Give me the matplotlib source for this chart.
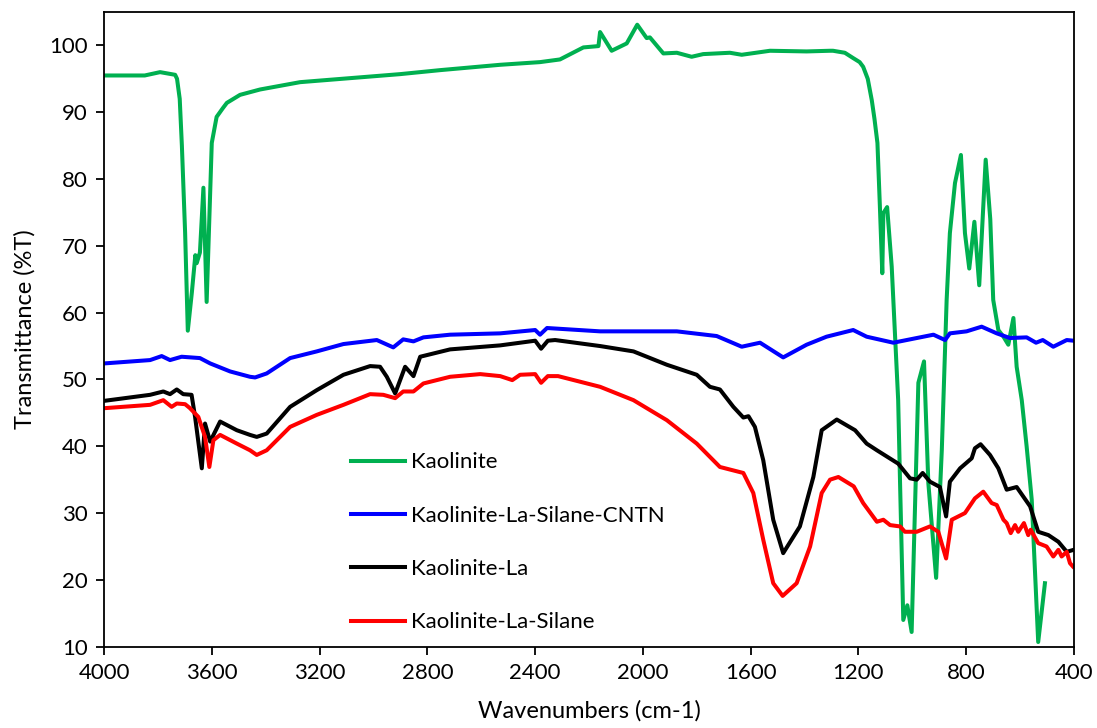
import matplotlib
matplotlib.use("Agg")
import matplotlib.pyplot as plt

plt.rcParams["font.family"] = ["Lato", "DejaVu Sans"]

# Kaolinite
wn_kao = [4000, 3850, 3793, 3737, 3730, 3720, 3712, 3700, 3690, 3675, 3662, 3657, 3645, 3632,
          3620, 3601, 3583, 3560, 3545, 3496, 3422, 3273, 2902, 2753, 2530, 2382, 2308, 2221,
          2165, 2159, 2116, 2060, 2021, 1986, 1974, 1924, 1874, 1819, 1776, 1677, 1633, 1528,
          1392, 1305, 1294, 1250, 1219, 1195, 1182, 1165, 1150, 1140, 1129, 1120, 1111, 1107,
          1093, 1076, 1052, 1045, 1033, 1018, 1002, 977, 956, 940, 911, 890, 872, 860, 841, 819,
          804, 788, 769, 751, 727, 710, 699, 680, 661, 643, 624, 612, 593, 575, 556, 532, 507]
t_kao = [95.5, 95.5, 96.0, 95.6, 95.0, 92.0, 85.0, 72.0, 57.3, 63.0, 68.6, 67.4, 69.0, 78.7,
         61.6, 85.4, 89.3, 90.6, 91.4, 92.6, 93.4, 94.5, 95.7, 96.3, 97.1, 97.5, 97.9, 99.7,
         99.9, 102.0, 99.2, 100.3, 103.1, 101.1, 101.2, 98.8, 98.9, 98.3, 98.7, 98.9, 98.6, 99.2,
         99.1, 99.2, 99.2, 98.9, 98.1, 97.5, 96.8, 95.0, 91.8, 89.0, 85.4, 76.0, 65.9, 74.9, 75.8,
         66.9, 46.9, 34.5, 14.0, 16.2, 12.2, 49.5, 52.7, 34.5, 20.3, 39.4, 61.9, 71.9, 79.4, 83.6,
         71.9, 66.6, 73.6, 64.1, 82.9, 74.0, 61.9, 57.4, 56.4, 55.2, 59.2, 51.9, 46.9, 40.0, 32.0,
         10.7, 19.5]

# Kaolinite-La-Silane-CNTN
wn_cntn = [4000, 3830, 3787, 3756, 3713, 3645, 3607, 3533, 3459, 3440, 3397, 3310, 3211, 3112,
           2988, 2927, 2890, 2852, 2815, 2716, 2530, 2400, 2382, 2356, 2159, 2035, 1874, 1726,
           1633, 1565, 1479, 1392, 1318, 1219, 1169, 1070, 921, 878, 860, 798, 742, 686, 637,
           575, 540, 515, 476, 426, 400]
t_cntn = [52.4, 52.9, 53.5, 52.9, 53.4, 53.2, 52.4, 51.2, 50.4, 50.3, 50.9, 53.2, 54.2, 55.3,
          55.9, 54.8, 56.0, 55.7, 56.3, 56.7, 56.9, 57.4, 56.7, 57.7, 57.2, 57.2, 57.2, 56.5,
          54.9, 55.5, 53.3, 55.2, 56.4, 57.4, 56.4, 55.5, 56.7, 55.9, 56.9, 57.2, 57.9, 56.9, 56.2,
          56.3, 55.5, 55.9, 54.9, 55.9, 55.8]

# Kaolinite-La
wn_la = [4000, 3830, 3781, 3756, 3731, 3707, 3676, 3663, 3638, 3626, 3607, 3570, 3508, 3459,
         3434, 3397, 3310, 3211, 3112, 3013, 2976, 2951, 2920, 2883, 2852, 2827, 2716, 2530,
         2400, 2378, 2353, 2326, 2159, 2035, 1911, 1800, 1751, 1714, 1664, 1627, 1608, 1584,
         1553, 1516, 1479, 1417, 1367, 1336, 1280, 1212, 1169, 1131, 1052, 1008, 983, 961, 934,
         897, 874, 860, 822, 779, 767, 746, 711, 680, 649, 612, 562, 532, 494, 457, 426, 400]
t_la = [46.8, 47.7, 48.2, 47.8, 48.5, 47.8, 47.7, 44.4, 36.7, 43.4, 40.7, 43.7, 42.4, 41.7,
        41.4, 41.9, 45.9, 48.4, 50.7, 52.0, 51.9, 50.4, 47.9, 51.9, 50.5, 53.4, 54.5, 55.1,
        55.8, 54.6, 55.8, 55.9, 55.0, 54.2, 52.2, 50.7, 48.9, 48.5, 45.9, 44.3, 44.5, 42.9,
        37.9, 29.0, 24.0, 28.0, 35.4, 42.4, 44.0, 42.4, 40.4, 39.4, 37.4, 35.2, 35.0, 36.0, 34.7,
        33.9, 29.5, 34.7, 36.7, 38.2, 39.7, 40.3, 38.7, 36.7, 33.5, 33.9, 31.0, 27.2, 26.7, 25.7,
        24.2, 24.5]

# Kaolinite-La-Silane
wn_sil = [4000, 3830, 3781, 3750, 3731, 3700, 3682, 3651, 3626, 3610, 3595, 3570, 3508, 3459,
          3434, 3397, 3310, 3211, 3112, 3013, 2964, 2920, 2890, 2852, 2815, 2716, 2604, 2530,
          2485, 2456, 2400, 2378, 2353, 2315, 2159, 2035, 1911, 1800, 1714, 1627, 1590, 1553,
          1516, 1481, 1429, 1379, 1336, 1305, 1274, 1217, 1182, 1131, 1107, 1082, 1045, 1027,
          983, 934, 903, 874, 853, 804, 767, 736, 705, 686, 661, 649, 634, 618, 606, 585, 569,
          560, 532, 501, 476, 457, 445, 426, 414, 403]
t_sil = [45.7, 46.2, 46.9, 45.9, 46.4, 46.3, 45.7, 44.4, 41.4, 36.9, 40.9, 41.7, 40.4, 39.4,
         38.7, 39.4, 42.9, 44.7, 46.2, 47.8, 47.7, 47.2, 48.2, 48.2, 49.4, 50.4, 50.8, 50.5,
         49.9, 50.7, 50.8, 49.5, 50.5, 50.5, 48.9, 46.9, 43.9, 40.4, 36.9, 36.0, 33.0, 26.0,
         19.5, 17.6, 19.5, 25.0, 33.0, 35.0, 35.4, 34.0, 31.5, 28.7, 29.0, 28.2, 28.0, 27.2,
         27.2, 28.0, 27.2, 23.2, 29.0, 30.0, 32.2, 33.2, 31.5, 31.2, 29.0, 28.5, 27.0, 28.2, 27.2,
         28.5, 26.7, 27.5, 25.5, 25.0, 23.5, 24.5, 23.5, 24.2, 22.5, 22.0]

x_ticks = [4000, 3600, 3200, 2800, 2400, 2000, 1600, 1200, 800, 400]
y_ticks = [10, 20, 30, 40, 50, 60, 70, 80, 90, 100]

fig = plt.figure(figsize=(10.97, 7.28), dpi=100)
ax = fig.add_axes([0.0951, 0.1117, 0.8837, 0.8718])

lw = 2.9
ax.plot(wn_kao, t_kao, color="#00B050", lw=lw, label="Kaolinite", solid_joinstyle="round")
ax.plot(wn_cntn, t_cntn, color="#0000FF", lw=lw, label="Kaolinite-La-Silane-CNTN",
        solid_joinstyle="round")
ax.plot(wn_la, t_la, color="black", lw=lw, label="Kaolinite-La", solid_joinstyle="round")
ax.plot(wn_sil, t_sil, color="#FF0000", lw=lw, label="Kaolinite-La-Silane",
        solid_joinstyle="round")

ax.set_xlim(4000, 400)
ax.set_ylim(10, 105)
ax.set_xticks(x_ticks)
ax.set_yticks(y_ticks)
ax.tick_params(axis="both", direction="out", length=6, width=1.3, labelsize=16, pad=6)
for side in ["left", "right", "top", "bottom"]:
    ax.spines[side].set_linewidth(1.3)

ax.set_xlabel("Wavenumbers (cm-1)", fontsize=17, labelpad=12)
ax.set_ylabel("Transmittance (%T)", fontsize=17, labelpad=10)

ax.legend(loc="upper left", bbox_to_anchor=(0.234, 0.3375), frameon=False, fontsize=16,
          handlelength=2.4, handletextpad=0.3, labelspacing=1.5)

fig.savefig("out.png", dpi=100)
